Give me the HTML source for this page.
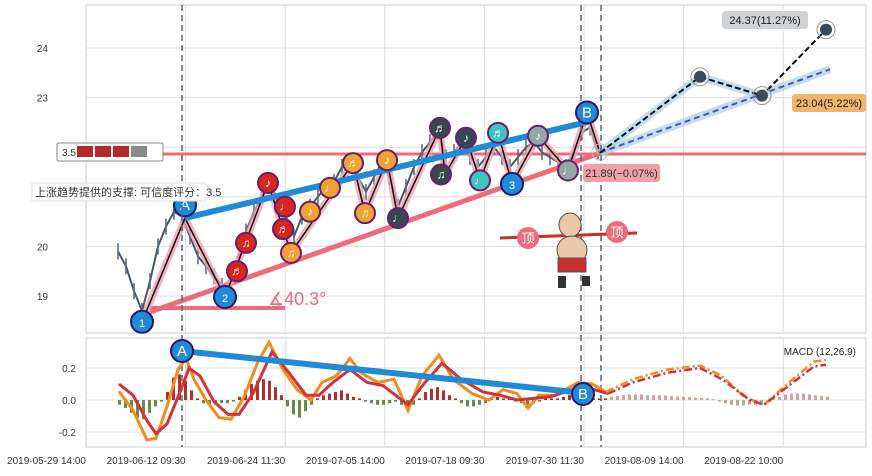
<!DOCTYPE html>
<html><head><meta charset="utf-8"><style>
body{margin:0;background:#fff;width:872px;height:471px;overflow:hidden;font-family:"Liberation Sans","Noto Sans CJK SC",sans-serif}
svg text{font-family:"Liberation Sans","Noto Sans CJK SC",sans-serif}
</style></head><body>
<svg id="c" width="872" height="471"></svg>
<script>
// ---- data ----
const xTickLabels=["2019-05-29 14:00","2019-06-12 09:30","2019-06-24 11:30","2019-07-05 14:00","2019-07-18 09:30","2019-07-30 11:30","2019-08-09 14:00","2019-08-22 10:00"];
const priceTicks=[19,20,21,22,23,24];
const priceTickShown=["19","20","","","23","24"];
const macdTicks=[-0.2,0,0.2];
const macdTickLabels=["-0.2","0.0","0.2"];
// candle close path, index step = 8px from x=118
const closes=[19.9,19.6,19.1,18.7,19.3,20.0,20.4,20.7,20.6,20.2,19.8,19.6,19.4,19.2,19.3,19.7,20.3,20.7,21.0,21.3,20.9,20.6,20.2,20.6,20.8,21.0,21.2,21.3,21.6,21.7,21.4,21.1,21.4,21.7,21.4,20.8,21.2,21.6,21.9,22.1,22.3,21.8,21.9,22.1,21.8,21.6,21.8,22.0,21.8,21.6,21.8,22.0,22.1,21.9,21.8,21.7,21.6,21.9,22.3,22.4,21.9];
// zigzag turning points (x pixel time position, price)
const zzX=[142,185,225,268,291,353,365,387,398,440,445,466,480,498,512,538,568,587,600];
const zzV=[18.48,20.57,18.98,21.28,19.87,21.68,20.67,21.74,20.57,22.39,21.45,22.19,21.33,22.29,21.26,22.23,21.53,22.70,21.89];
// markers
const mkX=[142,185,225,237,246,268,285,283,291,310,330,353,365,387,398,440,441,466,480,498,512,538,568,587];
const mkV=[18.48,20.83,18.98,19.50,20.07,21.28,20.80,20.35,19.87,20.70,21.18,21.68,20.67,21.74,20.57,22.39,21.45,22.19,21.33,22.29,21.26,22.23,21.53,22.70];
const mkType=["1","A","2","r","r","r","r","r","o","o","o","o","o","o","d","d","d","d","t","t","3","g","g","B"];
const projX=[600,700,762,826];
const projV=[21.89,22.56,22.17,23.13];
const projV2=[21.89,23.42,23.04,24.37];
// MACD
const difX=[119,133,147,156,167,178,186,194,206,219,231,244,258,269,283,297,311,322,336,350,361,378,394,408,422,439,453,472,489,503,517,528,539,556,578,592,606];
const difV=[0.054,-0.065,-0.25,-0.24,-0.04,0.19,0.26,0.13,0,-0.11,-0.12,0.02,0.24,0.36,0.19,0.065,0,0.11,0.15,0.26,0.17,0.11,0.13,-0.065,0.15,0.28,0.13,0.04,0,0.065,0.04,-0.05,0.03,0.03,0.11,0.1,0.05];
const difPX=[606,633,667,700,722,744,764,789,814,826];
const difPV=[0.05,0.13,0.19,0.215,0.15,0.02,-0.03,0.11,0.24,0.25];
const deaX=[119,133,147,156,167,181,189,200,214,228,239,253,272,289,306,319,333,350,367,383,408,425,442,461,483,500,517,533,550,578,594,608];
const deaV=[0.1,0.03,-0.13,-0.21,-0.15,0.065,0.2,0.15,-0.01,-0.09,-0.09,0.04,0.3,0.17,0.03,0.03,0.11,0.19,0.11,0.09,-0.03,0.11,0.23,0.13,0.05,0.03,0,0.01,0.02,0.075,0.065,0.04];
const deaPX=[608,633,667,700,722,750,764,789,814,826];
const deaPV=[0.04,0.11,0.17,0.2,0.13,0,-0.03,0.09,0.21,0.22];
const hist=[-0.03,-0.05,-0.08,-0.11,-0.12,-0.08,-0.04,-0.01,0.05,0.14,0.16,0.12,0.06,0.01,-0.02,-0.03,-0.03,-0.02,-0.02,-0.01,0.02,0.06,0.1,0.12,0.13,0.12,0.08,0.03,-0.04,-0.09,-0.11,-0.07,-0.03,0.01,0.03,0.04,0.05,0.06,0.04,0.02,0.01,-0.01,-0.02,-0.03,-0.03,-0.02,-0.01,-0.03,-0.04,-0.03,0.01,0.05,0.07,0.08,0.06,0.03,0.01,-0.02,-0.04,-0.04,-0.03,-0.02,0.01,0.02,0.01,0.01,-0.01,-0.02,-0.03,-0.02,-0.01,0.01,0.01,0.01,0.02,0.03,0.02,0.03,0.02,0.01,0.01,0.01];
const histP=[0.02,0.025,0.03,0.035,0.035,0.035,0.03,0.03,0.03,0.028,0.025,0.022,0.02,0.018,0.015,0.012,0.01,0.005,-0.01,-0.02,-0.03,-0.035,-0.035,-0.03,-0.03,-0.025,-0.01,0.01,0.02,0.035,0.04,0.04,0.04,0.035,0.03,0.025,0.02];

// ---- helpers ----
const S=document.getElementById('c'),NS='http://www.w3.org/2000/svg';
function el(t,a,p){const e=document.createElementNS(NS,t);for(const k in a)e.setAttribute(k,a[k]);(p||S).appendChild(e);return e;}
const yP=v=>48+(24-v)*49.6;
const yM=v=>400-v*160;
const L=86,R=866;
const pts=(xs,vs,f)=>xs.map((x,i)=>x+','+f(vs[i]).toFixed(1)).join(' ');

// panels
let e;
e=el('rect',{x:L,y:5,width:R-L,height:328,fill:'#fff',stroke:'#ccc'});

e=el('rect',{x:L,y:338,width:R-L,height:109,fill:'#fff',stroke:'#ccc'});

for(let i=0;i<8;i++){const x=86+i*99.6;
  if(i>0){el('line',{x1:x,x2:x,y1:5,y2:333,stroke:'#ddd'});el('line',{x1:x,x2:x,y1:338,y2:447,stroke:'#ddd'});}
  e=el('text',{x:x,y:464,'font-size':10,'text-anchor':'end',fill:'#333'});e.textContent=xTickLabels[i];
  
}
priceTicks.forEach((v,i)=>{el('line',{x1:L,x2:R,y1:yP(v),y2:yP(v),stroke:'#ddd'});
  e=el('text',{x:48,y:yP(v)+4,'font-size':10,'text-anchor':'end',fill:'#333'});e.textContent=priceTickShown[i];
  });
macdTicks.forEach((v,i)=>{el('line',{x1:L,x2:R,y1:yM(v),y2:yM(v),stroke:'#ddd'});
  e=el('text',{x:76,y:yM(v)+4,'font-size':10,'text-anchor':'end',fill:'#333'});e.textContent=macdTickLabels[i];
  });

// horizontal resistance line
e=el('line',{x1:160,x2:R,y1:154,y2:154,stroke:'#ee6b7c','stroke-width':3});


// candles path
e=el('polyline',{points:pts(closes.map((_,i)=>118+i*8),closes,yP),fill:'none',stroke:'#4a5a6a','stroke-width':2});

closes.forEach((v,i)=>{const x=118+i*8;e=el('line',{x1:x,x2:x,y1:yP(v)-8,y2:yP(v)+8,stroke:'#56677a','stroke-width':1.5});
  });

// trend lines
e=el('line',{x1:150,y1:312,x2:600,y2:153,stroke:'#ee6b7c','stroke-width':5});

e=el('line',{x1:150,y1:308,x2:285,y2:308,stroke:'#ee6b7c','stroke-width':4});

e=el('text',{x:268,y:305,'font-size':18,fill:'#ee6b7c'});e.textContent='∡40.3°';


// zigzag
e=el('polyline',{points:pts(zzX,zzV,yP),fill:'none',stroke:'#f0a0b0','stroke-width':7,'stroke-opacity':0.8});

e=el('polyline',{points:pts(zzX,zzV,yP),fill:'none',stroke:'#111','stroke-width':1.5});

e=el('line',{x1:185,y1:218,x2:587,y2:122,stroke:'#1e8ad8','stroke-width':6});


// projection
e=el('polyline',{points:pts(projX.slice(0,3),projV2.slice(0,3),yP),fill:'none',stroke:'#a8d0ea','stroke-width':8,'stroke-opacity':0.7});

e=el('line',{x1:600,y1:yP(21.89),x2:830,y2:yP(23.57),stroke:'#a8d0ea','stroke-width':8,'stroke-opacity':0.7});

e=el('line',{x1:600,y1:yP(21.89),x2:830,y2:yP(23.57),stroke:'#5a4fb0','stroke-width':2,'stroke-dasharray':'6,4'});

e=el('polyline',{points:pts(projX,projV2,yP),fill:'none',stroke:'#111','stroke-width':2,'stroke-dasharray':'6,3'});

projX.slice(1).forEach((x,i)=>{const y=yP(projV2[i+1]);
  el('circle',{cx:x,cy:y,r:9,fill:'none',stroke:'#999'});
  e=el('circle',{cx:x,cy:y,r:6,fill:'#3a4a5a'});
  });
el('circle',{cx:600,cy:152,r:8,fill:'none',stroke:'#bbb'});

// markers
const cols={r:'#d8261c',o:'#f2a233',d:'#37474f',t:'#3fc3c4',g:'#92a8a2'};
const glyphs=['♫','♪','♩','♬'];
mkType.forEach((t,i)=>{const x=mkX[i],y=yP(mkV[i]);
  const lab=/[0-9AB]/.test(t);const g=el('g',{});
  
  el('circle',{cx:x,cy:y,r:lab?11:10,fill:lab?'#1e8ad8':cols[t],stroke:lab?'#2a1a6a':'#6a1f6a','stroke-width':2},g);
  const tx=el('text',{x:x,y:y+(lab?5:4),'font-size':lab?(t>='A'?15:11):12,'text-anchor':'middle',fill:'#fff'},g);
  tx.textContent=lab?t:glyphs[i%4];});

// vertical dashed lines
[182,581,601].forEach(x=>{e=el('line',{x1:x,x2:x,y1:5,y2:447,stroke:'#56677a','stroke-width':1.5,'stroke-dasharray':'6,4'});
  });

// labels
function box(x,y,w,h,fill,txt,name,tc){const g=el('g',{});
  el('rect',{x:x,y:y,width:w,height:h,rx:3,fill:fill},g);const t=el('text',{x:x+w/2,y:y+h/2+4,'font-size':11,'text-anchor':'middle',fill:tc||'#222'},g);t.textContent=txt;}
box(722,11,86,18,'#cfd3d6','24.37(11.27%)','target-high-label');
box(792,94,74,18,'#f2b46a','23.04(5.22%)','target-mid-label');
box(583,164,77,18,'#f2a0a8','21.89(−0.07%)','current-price-label','#333');

// legend-ish box
let g=el('g',{});
el('rect',{x:57,y:143,width:106,height:18,fill:'#fff',stroke:'#888',rx:2},g);
e=el('text',{x:62,y:156,'font-size':10,fill:'#333'},g);e.textContent='3.5';
for(let i=0;i<4;i++)el('rect',{x:77+i*18,y:146,width:16,height:11,fill:i<3?'#b42a2a':'#8a8a8a'},g);
g=el('g',{});
el('path',{d:'M32,183 H205 L213,192 L205,201 H32 Z',fill:'#fff',stroke:'#ddd'},g);
e=el('text',{x:35,y:196,'font-size':11,fill:'#333'},g);e.textContent='上涨趋势提供的支撑: 可信度评分：3.5';

// 顶 signs + figure
g=el('g',{});
el('line',{x1:500,y1:238,x2:637,y2:233,stroke:'#c8302a','stroke-width':3},g);
[[528,238],[617,232]].forEach(p=>{el('circle',{cx:p[0],cy:p[1],r:11,fill:'#ee6b7c'},g);
  const t=el('text',{x:p[0],y:p[1]+5,'font-size':13,'text-anchor':'middle',fill:'#fff'},g);t.textContent='顶';});
el('ellipse',{cx:570,cy:225,rx:11,ry:12,fill:'#e8c8a8',stroke:'#555'},g);
el('ellipse',{cx:572,cy:250,rx:15,ry:14,fill:'#e8c8a8',stroke:'#555'},g);
el('rect',{x:558,y:258,width:28,height:14,fill:'#c8302a',stroke:'#555'},g);
el('rect',{x:558,y:276,width:8,height:12,fill:'#333'},g);
el('rect',{x:582,y:276,width:8,height:10,fill:'#333'},g);

// MACD
e=el('text',{x:856,y:355,'font-size':10,'text-anchor':'end',fill:'#222'});e.textContent='MACD (12,26,9)';

hist.forEach((v,i)=>{const x=118+i*6;e=el('rect',{x:x,y:Math.min(yM(v),400),width:3,height:Math.abs(yM(v)-400),fill:v>=0?'#b0302a':'#6a8a4a'});
  });
histP.forEach((v,i)=>{const x=610+i*6;e=el('rect',{x:x,y:Math.min(yM(v),400),width:3,height:Math.abs(yM(v)-400),fill:v>=0?'#d8a0a0':'#b8a898'});
  });
e=el('polyline',{points:pts(difX,difV,yM),fill:'none',stroke:'#f58a1f','stroke-width':3});

e=el('polyline',{points:pts(deaX,deaV,yM),fill:'none',stroke:'#d0343a','stroke-width':3});

e=el('polyline',{points:pts(difPX,difPV,yM),fill:'none',stroke:'#f58a1f','stroke-width':2.5,'stroke-dasharray':'8,3,2,3'});

e=el('polyline',{points:pts(deaPX,deaPV,yM),fill:'none',stroke:'#d0343a','stroke-width':2.5,'stroke-dasharray':'8,3,2,3'});

e=el('line',{x1:182,y1:351,x2:583,y2:393,stroke:'#1e8ad8','stroke-width':6});

[[182,351,'A'],[583,394,'B']].forEach(p=>{g=el('g',{});
  el('circle',{cx:p[0],cy:p[1],r:11,fill:'#1e8ad8',stroke:'#2a1a6a','stroke-width':2},g);
  const t=el('text',{x:p[0],y:p[1]+5,'font-size':15,'text-anchor':'middle',fill:'#fff'},g);t.textContent=p[2];});
</script>
</body></html>
